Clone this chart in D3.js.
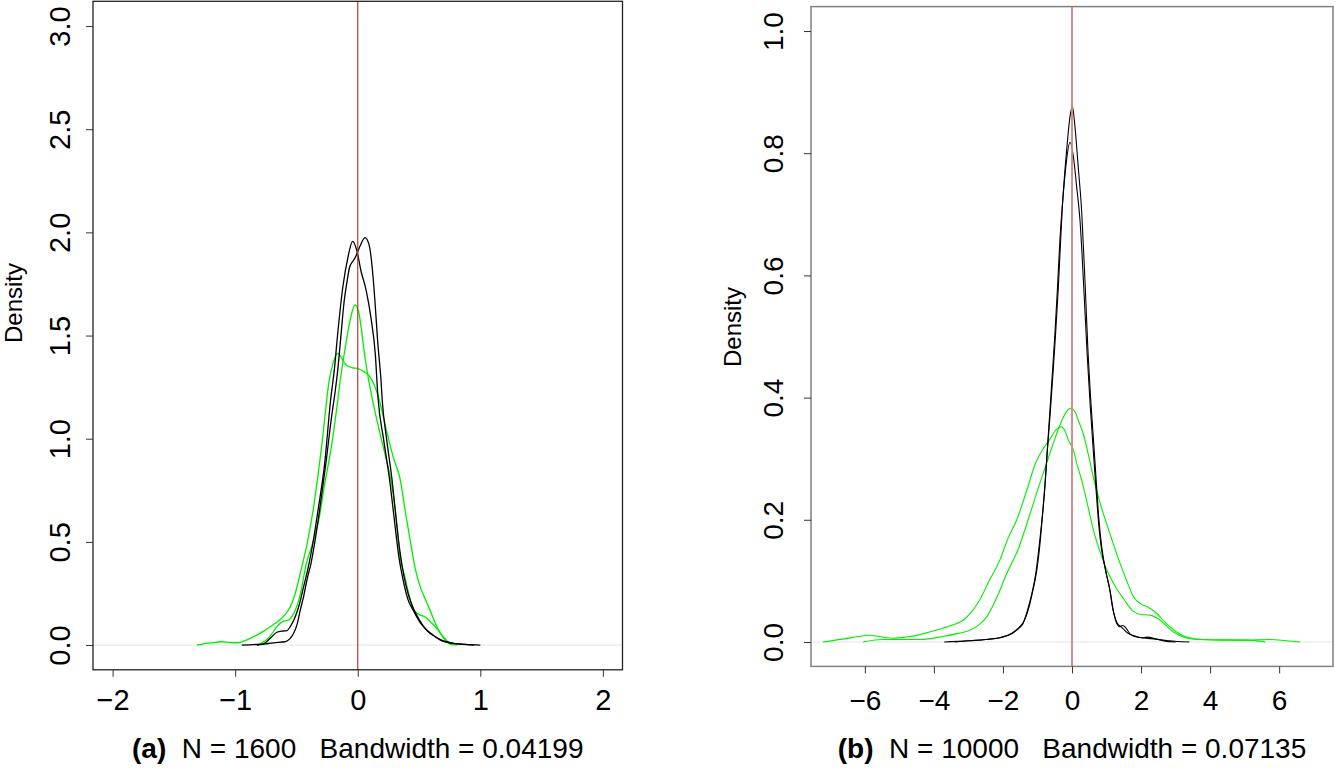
<!DOCTYPE html>
<html>
<head>
<meta charset="utf-8">
<script src="https://cdn.jsdelivr.net/npm/d3@7"></script>
<style>
body{margin:0;background:#fff;}
svg text{font-family:"Liberation Sans",Arial,Helvetica,sans-serif;fill:#000;}
</style>
</head>
<body>
<svg id="chart" width="1336" height="772"></svg>
<script>
//tick values
var xTicksA = [-2,-1,0,1,2];
var yTicksA = [0,0.5,1,1.5,2,2.5,3];
var xTicksB = [-6,-4,-2,0,2,4,6];
var yTicksB = [0,0.2,0.4,0.6,0.8,1];

//panel (a) density curves, [x, density]
var blackA1 = [[-0.946,0],[-0.85,0.002],[-0.769,0.006],[-0.71,0.035],[-0.66,0.062],[-0.61,0.068],[-0.578,0.07],[-0.54,0.1],[-0.51,0.137],[-0.475,0.2],[-0.442,0.282],[-0.41,0.36],[-0.37,0.48],[-0.32,0.669],[-0.27,0.879],[-0.222,1.185],[-0.19,1.34],[-0.165,1.5],[-0.122,1.734],[-0.08,1.879],[-0.042,1.956],[-0.007,1.911],[0.026,1.814],[0.069,1.718],[0.107,1.589],[0.143,1.411],[0.165,1.2],[0.21,1.0],[0.26,0.8],[0.30,0.6],[0.335,0.43],[0.365,0.33],[0.41,0.22],[0.456,0.165],[0.52,0.1],[0.565,0.072],[0.6,0.055],[0.674,0.024],[0.78,0.008],[0.95,0]];
var blackA2 = [[-0.823,0],[-0.75,0.006],[-0.687,0.011],[-0.592,0.016],[-0.555,0.03],[-0.524,0.056],[-0.495,0.1],[-0.469,0.169],[-0.44,0.24],[-0.415,0.314],[-0.38,0.40],[-0.35,0.50],[-0.31,0.66],[-0.26,0.88],[-0.215,1.1],[-0.184,1.23],[-0.162,1.34],[-0.14,1.48],[-0.112,1.66],[-0.088,1.76],[-0.067,1.83],[-0.04,1.86],[-0.02,1.879],[0.02,1.935],[0.059,1.975],[0.091,1.943],[0.118,1.83],[0.14,1.669],[0.162,1.476],[0.19,1.28],[0.2,1.185],[0.235,1.0],[0.28,0.8],[0.315,0.6],[0.345,0.45],[0.375,0.34],[0.415,0.24],[0.456,0.175],[0.5,0.125],[0.55,0.08],[0.592,0.056],[0.62,0.045],[0.674,0.026],[0.783,0.008],[0.88,0.003],[1.0,0]];
var greenA1 = [[-0.823,0],[-0.78,0.012],[-0.741,0.027],[-0.70,0.055],[-0.66,0.089],[-0.605,0.116],[-0.565,0.121],[-0.535,0.14],[-0.51,0.169],[-0.48,0.22],[-0.456,0.282],[-0.425,0.38],[-0.37,0.49],[-0.32,0.60],[-0.27,0.78],[-0.211,0.976],[-0.175,1.13],[-0.143,1.282],[-0.10,1.45],[-0.06,1.58],[-0.023,1.648],[0.005,1.62],[0.03,1.53],[0.048,1.443],[0.08,1.314],[0.116,1.2],[0.16,1.08],[0.22,0.93],[0.27,0.8],[0.31,0.64],[0.347,0.42],[0.38,0.34],[0.42,0.24],[0.456,0.169],[0.51,0.145],[0.545,0.138],[0.58,0.12],[0.646,0.08],[0.69,0.045],[0.73,0.02],[0.77,0.006],[0.81,0]];
var greenA2 = [[-1.313,0],[-1.2,0.01],[-1.109,0.016],[-1.04,0.012],[-0.973,0.011],[-0.9,0.026],[-0.823,0.048],[-0.76,0.07],[-0.714,0.089],[-0.633,0.124],[-0.59,0.15],[-0.551,0.185],[-0.515,0.24],[-0.488,0.3],[-0.456,0.38],[-0.41,0.5],[-0.36,0.669],[-0.292,0.976],[-0.233,1.282],[-0.2,1.37],[-0.162,1.414],[-0.13,1.39],[-0.1,1.36],[-0.05,1.345],[0.007,1.339],[0.05,1.325],[0.1,1.3],[0.17,1.2],[0.23,1.05],[0.29,0.91],[0.347,0.8],[0.39,0.64],[0.43,0.5],[0.469,0.37],[0.51,0.282],[0.545,0.23],[0.578,0.185],[0.646,0.089],[0.714,0.024],[0.755,0.004],[0.78,0]];

//panel (b) density curves, [x, density]
var blackB1 = [[-3.7,0],[-3.0,0.002],[-2.5,0.004],[-2.09,0.007],[-1.75,0.014],[-1.51,0.025],[-1.38,0.035],[-1.27,0.052],[-1.15,0.08],[-1.02,0.117],[-0.92,0.165],[-0.85,0.21],[-0.78,0.26],[-0.71,0.316],[-0.63,0.375],[-0.55,0.44],[-0.48,0.5],[-0.396,0.58],[-0.28,0.712],[-0.155,0.805],[-0.058,0.86],[0.01,0.877],[0.087,0.843],[0.184,0.775],[0.28,0.705],[0.377,0.59],[0.46,0.48],[0.55,0.39],[0.64,0.316],[0.7,0.265],[0.78,0.2],[0.86,0.156],[1.0,0.11],[1.1,0.085],[1.2,0.05],[1.3,0.03],[1.39,0.025],[1.46,0.027],[1.53,0.025],[1.7,0.012],[1.87,0.008],[2.36,0.005],[2.8,0.002],[3.4,0]];
var blackB2 = [[-3.4,0],[-2.96,0.002],[-2.5,0.004],[-2.0,0.008],[-1.7,0.015],[-1.55,0.022],[-1.42,0.03],[-1.3,0.05],[-1.16,0.08],[-1.05,0.112],[-0.95,0.158],[-0.87,0.2],[-0.79,0.25],[-0.72,0.31],[-0.65,0.37],[-0.58,0.43],[-0.5,0.5],[-0.425,0.575],[-0.348,0.66],[-0.251,0.734],[-0.155,0.79],[-0.06,0.818],[0.039,0.795],[0.135,0.745],[0.232,0.69],[0.35,0.57],[0.44,0.47],[0.53,0.385],[0.62,0.31],[0.69,0.255],[0.77,0.195],[0.84,0.158],[0.98,0.115],[1.08,0.09],[1.18,0.055],[1.3,0.032],[1.44,0.024],[1.6,0.015],[1.87,0.009],[2.05,0.007],[2.2,0.008],[2.36,0.006],[2.5,0.004],[2.74,0.001],[3.0,0]];
var greenB1 = [[-7.21,0],[-6.6,0.005],[-6.2,0.009],[-5.86,0.011],[-5.5,0.008],[-5.18,0.006],[-4.8,0.008],[-4.41,0.012],[-3.9,0.02],[-3.44,0.028],[-3.15,0.036],[-2.9,0.05],[-2.67,0.069],[-2.4,0.1],[-2.09,0.134],[-1.85,0.17],[-1.6,0.2],[-1.3,0.25],[-1.06,0.292],[-0.85,0.315],[-0.66,0.33],[-0.45,0.348],[-0.316,0.352],[-0.2,0.345],[-0.1,0.33],[0.03,0.316],[0.15,0.29],[0.28,0.265],[0.45,0.225],[0.62,0.183],[0.8,0.15],[0.97,0.123],[1.2,0.096],[1.5,0.07],[1.78,0.05],[2.0,0.045],[2.26,0.044],[2.55,0.036],[2.9,0.018],[3.23,0.008],[3.6,0.004],[4.5,0.003],[5.0,0.003],[5.7,0.004],[6.2,0.002],[6.61,0]];
var greenB2 = [[-6.05,0],[-5.47,0.004],[-4.41,0.004],[-3.73,0.009],[-3.3,0.014],[-2.96,0.019],[-2.7,0.028],[-2.47,0.041],[-2.2,0.07],[-1.89,0.112],[-1.55,0.153],[-1.27,0.2],[-0.96,0.255],[-0.75,0.29],[-0.56,0.322],[-0.35,0.355],[-0.15,0.378],[-0.02,0.383],[0.1,0.375],[0.2,0.36],[0.33,0.34],[0.5,0.3],[0.65,0.262],[0.8,0.23],[1.0,0.194],[1.2,0.16],[1.39,0.129],[1.6,0.098],[1.78,0.074],[2.0,0.062],[2.17,0.058],[2.45,0.047],[2.7,0.032],[2.94,0.02],[3.32,0.008],[3.8,0.004],[5.06,0.003],[5.6,0]];

//captions
var captionA = ['(a)', '  N = 1600   Bandwidth = 0.04199'];
var captionB = ['(b)', '  N = 10000   Bandwidth = 0.07135'];

var svg = d3.select('#chart');

//draw one R-style density panel
function drawPanel(p) {
	var ex = 0.04*(p.xlim[1]-p.xlim[0]);
	var ey = 0.04*(p.ylim[1]-p.ylim[0]);
	var x = d3.scaleLinear().domain([p.xlim[0]-ex, p.xlim[1]+ex]).range([p.left, p.right]);
	var y = d3.scaleLinear().domain([p.ylim[0]-ey, p.ylim[1]+ey]).range([p.bottom, p.top]);
	var g = svg.append('g');

	//zero line
	g.append('line')
		.attr('x1',p.left).attr('x2',p.right)
		.attr('y1',y(0)).attr('y2',y(0))
		.style('stroke','#e3e3e3').style('stroke-width',1);

	//curves
	var line = d3.line().x(d => x(d[0])).y(d => y(d[1])).curve(d3.curveMonotoneX);
	p.curves.forEach(c => {
		g.append('path')
			.attr('d',line(c.data))
			.style('fill','none')
			.style('stroke',c.color)
			.style('stroke-width',p.lw);
	});

	//true value line
	g.append('line')
		.attr('x1',x(0)).attr('x2',x(0))
		.attr('y1',p.top).attr('y2',p.bottom)
		.style('stroke',p.redColor).style('stroke-width',p.redWidth);

	//box
	g.append('rect')
		.attr('x',p.left).attr('y',p.top)
		.attr('width',p.right-p.left).attr('height',p.bottom-p.top)
		.style('fill','none').style('stroke',p.boxColor).style('stroke-width',p.boxWidth);

	//x axis
	var xa = g.append('g')
		.attr('transform',`translate(0,${p.bottom})`)
		.call(d3.axisBottom(x).tickValues(p.xTicks).tickSize(7).tickFormat(d3.format('d')));
	xa.select('.domain').remove();
	xa.selectAll('line').style('stroke','#333');
	xa.selectAll('text')
		.attr('y',p.xLabelY-p.bottom).attr('dy',0)
		.style('font-size',p.tickFont).style('fill','#000');

	//y axis, labels rotated like R
	var ya = g.append('g')
		.attr('transform',`translate(${p.left},0)`)
		.call(d3.axisLeft(y).tickValues(p.yTicks).tickSize(7).tickFormat(d3.format('.1f')));
	ya.select('.domain').remove();
	ya.selectAll('line').style('stroke','#333');
	ya.selectAll('text')
		.attr('transform','rotate(-90)')
		.attr('x',0).attr('y',p.yLabelX-p.left).attr('dy',0)
		.style('text-anchor','middle')
		.style('font-size',p.tickFont).style('fill','#000');

	//y title
	g.append('text')
		.attr('transform',`translate(${p.titleX},${p.titleY}) rotate(-90)`)
		.style('text-anchor','middle')
		.style('font-size','24px')
		.text('Density');

	//caption
	var cap = g.append('text')
		.attr('x',(p.left+p.right)/2).attr('y',p.captionY)
		.style('text-anchor','middle')
		.style('font-size','28px')
		.style('white-space','pre');
	cap.append('tspan').style('font-weight','bold').text(p.caption[0]);
	cap.append('tspan').text(p.caption[1]);
}

drawPanel({
	left:93, right:622.5, top:1.3, bottom:669.8,
	xlim:[-2,2], ylim:[0,3], xTicks:xTicksA, yTicks:yTicksA,
	curves:[{data:greenA1,color:'#00ee00'},{data:greenA2,color:'#00ee00'},{data:blackA1,color:'#000'},{data:blackA2,color:'#000'}],
	lw:1.3, redColor:'#b83a3a', redWidth:1.2, boxColor:'#222', boxWidth:1.3, tickFont:'29px',
	xLabelY:710, yLabelX:70, titleX:22, titleY:303, captionY:758, caption:captionA
});

drawPanel({
	left:811, right:1333, top:6.6, bottom:666.4,
	xlim:[-7,7], ylim:[0,1], xTicks:xTicksB, yTicks:yTicksB,
	curves:[{data:greenB1,color:'#00ee00'},{data:greenB2,color:'#00ee00'},{data:blackB1,color:'#000'},{data:blackB2,color:'#000'}],
	lw:1.1, redColor:'#d98080', redWidth:1.8, boxColor:'#808080', boxWidth:1.5, tickFont:'28px',
	xLabelY:710, yLabelX:783, titleX:741, titleY:327, captionY:758, caption:captionB
});
</script>
</body>
</html>
